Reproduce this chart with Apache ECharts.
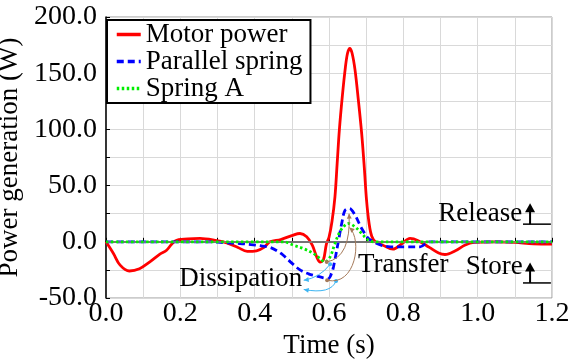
<!DOCTYPE html>
<html>
<head>
<meta charset="utf-8">
<script src="https://cdn.jsdelivr.net/npm/echarts@6/dist/echarts.min.js"></script>
<style>
  html, body { margin: 0; padding: 0; background: #fff; }
  #main { width: 569px; height: 362px; }
</style>
</head>
<body>
<div id="main"></div>
<script>
// time (s) and power (W)
const motorT = [0, 0.02, 0.038, 0.063, 0.09, 0.118, 0.145, 0.163, 0.186, 0.22, 0.253, 0.298, 0.325, 0.355, 0.38, 0.405, 0.425, 0.441, 0.47, 0.5, 0.522, 0.54, 0.555, 0.567, 0.576, 0.585, 0.593, 0.6, 0.608, 0.616, 0.622, 0.628, 0.636, 0.644, 0.65, 0.656, 0.662, 0.67, 0.679, 0.688, 0.695, 0.701, 0.708, 0.715, 0.725, 0.745, 0.772, 0.795, 0.818, 0.84, 0.87, 0.895, 0.912, 0.94, 0.965, 0.99, 1.05, 1.1, 1.15, 1.2];
const motorP = [0, -10.4, -20.8, -26, -24, -17.9, -11, -7.5, 0.8, 2.5, 3, 1, -1, -5, -8.5, -8, -5, 0, 2, 5.5, 7.4, 4.5, -3, -13.4, -18, -16, -2, 4, 18, 40, 70, 100, 130, 155, 168, 172, 168, 153, 126, 96, 66, 37, 16, 5, 0, -3, -6.6, -2, 3, 1, -5, -10, -11.3, -8, -3, -0.5, 0, -0.5, -1.8, -2];

const springT = [0, 0.1, 0.2, 0.28, 0.32, 0.36, 0.39, 0.415, 0.441, 0.46, 0.477, 0.5, 0.522, 0.545, 0.567, 0.585, 0.598, 0.607, 0.612, 0.625, 0.634, 0.643, 0.655, 0.67, 0.688, 0.706, 0.72, 0.74, 0.765, 0.8, 0.845, 0.87, 0.9, 1.0, 1.1, 1.2];
const springP = [0, 0, 0, 0, -0.8, -1.5, -2.5, -3.5, -5, -8, -12, -19, -25, -28.5, -30.6, -32, -32.7, -28, -22.3, 0, 16, 28, 29.6, 23.7, 11.8, 3, 0, -3, -4.5, -4.5, -4.5, 0, 0, 0, 0, 0];

const springAT = [0, 0.1, 0.2, 0.3, 0.4, 0.45, 0.477, 0.504, 0.531, 0.558, 0.576, 0.589, 0.603, 0.616, 0.629, 0.643, 0.652, 0.67, 0.688, 0.706, 0.72, 0.8, 0.9, 1.0, 1.1, 1.2];
const springAP = [0, 0, 0, 0, 0, 0, 0, -3, -6, -10.4, -14.9, -18, -13.4, -1.5, 8.8, 14.8, 16.3, 13.3, 7.4, 1.4, 0, 0, 0, 0, 0, 0];

const seriesNames = ['Motor power', 'Parallel spring', 'Spring A'];
const xTicks = [0, 0.2, 0.4, 0.6, 0.8, 1.0, 1.2];
const yTicks = [-50, 0, 50, 100, 150, 200];

const FONT = '"Liberation Serif", "Times New Roman", serif';
const zip = (a, b) => a.map((t, i) => [t, b[i]]);

const chart = echarts.init(document.getElementById('main'), null, { renderer: 'canvas' });

const option = {
  animation: false,
  backgroundColor: '#fff',
  grid: {
    left: 106, right: 17, top: 17, bottom: 64,
    outerBoundsMode: 'none', containLabel: false,
    show: true, borderColor: '#999', borderWidth: 1, backgroundColor: 'transparent'
  },
  legend: {
    orient: 'vertical',
    left: 107, top: 20,
    backgroundColor: '#fff',
    borderColor: '#000', borderWidth: 2,
    padding: [1, 8, 1, 8],
    itemGap: 0,
    itemWidth: 24, itemHeight: 10,
    itemStyle: { opacity: 0 },
    lineStyle: { width: 3.5 },
    textStyle: { fontFamily: FONT, fontSize: 27, color: '#000', lineHeight: 27 },
    data: seriesNames
  },
  xAxis: {
    type: 'value', min: 0, max: 1.2, interval: 0.1,
    name: 'Time (s)', nameLocation: 'middle', nameGap: 33,
    nameTextStyle: { fontFamily: FONT, fontSize: 27, color: '#000' },
    axisLine: { lineStyle: { color: '#000', width: 1.5 } },
    axisTick: { inside: true, length: 4, lineStyle: { color: '#000' } },
    axisLabel: {
      fontFamily: FONT, fontSize: 28, color: '#000', margin: 2,
      formatter: v => xTicks.some(t => Math.abs(t - v) < 1e-6) ? v.toFixed(1) : ''
    },
    splitLine: { show: true, lineStyle: { color: '#d9d9d9', width: 1 } }
  },
  yAxis: {
    type: 'value', min: -50, max: 200, interval: 25,
    name: 'Power generation (W)', nameLocation: 'middle', nameGap: 71,
    nameTextStyle: { fontFamily: FONT, fontSize: 27, color: '#000' },
    axisLine: { lineStyle: { color: '#000', width: 1.5 } },
    axisTick: { inside: true, length: 4, lineStyle: { color: '#000' } },
    axisLabel: {
      fontFamily: FONT, fontSize: 28, color: '#000', margin: 9,
      formatter: v => yTicks.includes(v) ? v.toFixed(1) : ''
    },
    splitLine: { show: true, lineStyle: { color: '#d9d9d9', width: 1 } }
  },
  series: [
    {
      name: seriesNames[0], type: 'line', data: zip(motorT, motorP),
      smooth: 0.35, symbol: 'none', z: 3,
      lineStyle: { color: '#ff0000', width: 2.8 }, itemStyle: { color: '#ff0000' },
      markLine: {
        silent: true, symbol: 'none', label: { show: false },
        lineStyle: { color: '#888', width: 1.5, type: 'solid' },
        data: [{ yAxis: 0 }]
      }
    },
    {
      name: seriesNames[1], type: 'line', data: zip(springT, springP),
      smooth: 0.35, symbol: 'none', z: 4,
      lineStyle: { color: '#0000ff', width: 2.8, type: [7, 4] }, itemStyle: { color: '#0000ff' }
    },
    {
      name: seriesNames[2], type: 'line', data: zip(springAT, springAP),
      smooth: 0.35, symbol: 'none', z: 5,
      lineStyle: { color: '#00ee00', width: 2.8, type: [2.5, 2.5] }, itemStyle: { color: '#00ee00' }
    }
  ]
};

chart.setOption(option);

// annotations placed in data coordinates
const P = (t, v) => chart.convertToPixel({ gridIndex: 0 }, [t, v]);

function curve(from, c1, c2, to, color) {
  const a = P(...from), b = P(...to), p1 = P(...c1), p2 = c2 ? P(...c2) : null;
  const shape = { x1: a[0], y1: a[1], x2: b[0], y2: b[1], cpx1: p1[0], cpy1: p1[1] };
  if (p2) { shape.cpx2 = p2[0]; shape.cpy2 = p2[1]; }
  const last = p2 || p1;
  const dx = b[0] - last[0], dy = b[1] - last[1];
  const len = Math.hypot(dx, dy) || 1;
  const ux = dx / len, uy = dy / len, s = 5;
  return [
    { type: 'bezierCurve', shape, style: { stroke: color, lineWidth: 1, fill: null }, z: 20 },
    { type: 'polygon', z: 20, style: { fill: color },
      shape: { points: [[b[0], b[1]],
        [b[0] - ux * s - uy * s * 0.5, b[1] - uy * s + ux * s * 0.5],
        [b[0] - ux * s + uy * s * 0.5, b[1] - uy * s - ux * s * 0.5]] } },
    { type: 'circle', z: 20, shape: { cx: a[0], cy: a[1], r: 2 }, style: { fill: color } }
  ];
}

function label(text, t, v, align) {
  const p = P(t, v);
  return { type: 'text', x: p[0], y: p[1], z: 25,
    style: { text, fill: '#000', font: '27px ' + FONT, align: align || 'left', verticalAlign: 'bottom' } };
}

function upArrow(t, vBase, vTip, tL, tR) {
  const b = P(t, vBase), tip = P(t, vTip), l = P(tL, vBase), r = P(tR, vBase);
  return [
    { type: 'line', z: 25, shape: { x1: b[0], y1: b[1], x2: tip[0], y2: tip[1] + 6 }, style: { stroke: '#000', lineWidth: 2 } },
    { type: 'polygon', z: 25, style: { fill: '#000' },
      shape: { points: [[tip[0], tip[1]], [tip[0] - 5, tip[1] + 9], [tip[0] + 5, tip[1] + 9]] } },
    { type: 'line', z: 25, shape: { x1: l[0], y1: l[1], x2: r[0], y2: r[1] }, style: { stroke: '#000', lineWidth: 1.5 } }
  ];
}

const lightBlue = '#3db5f2', brown = '#a57a5a';
const graphics = [].concat(
  curve([0.603, -20], [0.575, -32], null, [0.532, -34.2], lightBlue),
  curve([0.619, -34.8], [0.605, -47], null, [0.532, -42.4], lightBlue),
  curve([0.594, -17.9], [0.66, -14], null, [0.654, 25], brown),
  curve([0.595, -34.2], [0.672, -40], [0.69, 2], [0.655, 12.7], brown),
  [label('Release', 1.12, 13, 'right'), label('Store', 1.121, -34, 'right'),
   label('Transfer', 0.678, -32.4), label('Dissipation', 0.197, -44.8)],
  upArrow(1.141, 15.7, 34.3, 1.122, 1.197),
  upArrow(1.141, -36.6, -18.4, 1.122, 1.197)
);

chart.setOption({ graphic: graphics });
</script>
</body>
</html>
